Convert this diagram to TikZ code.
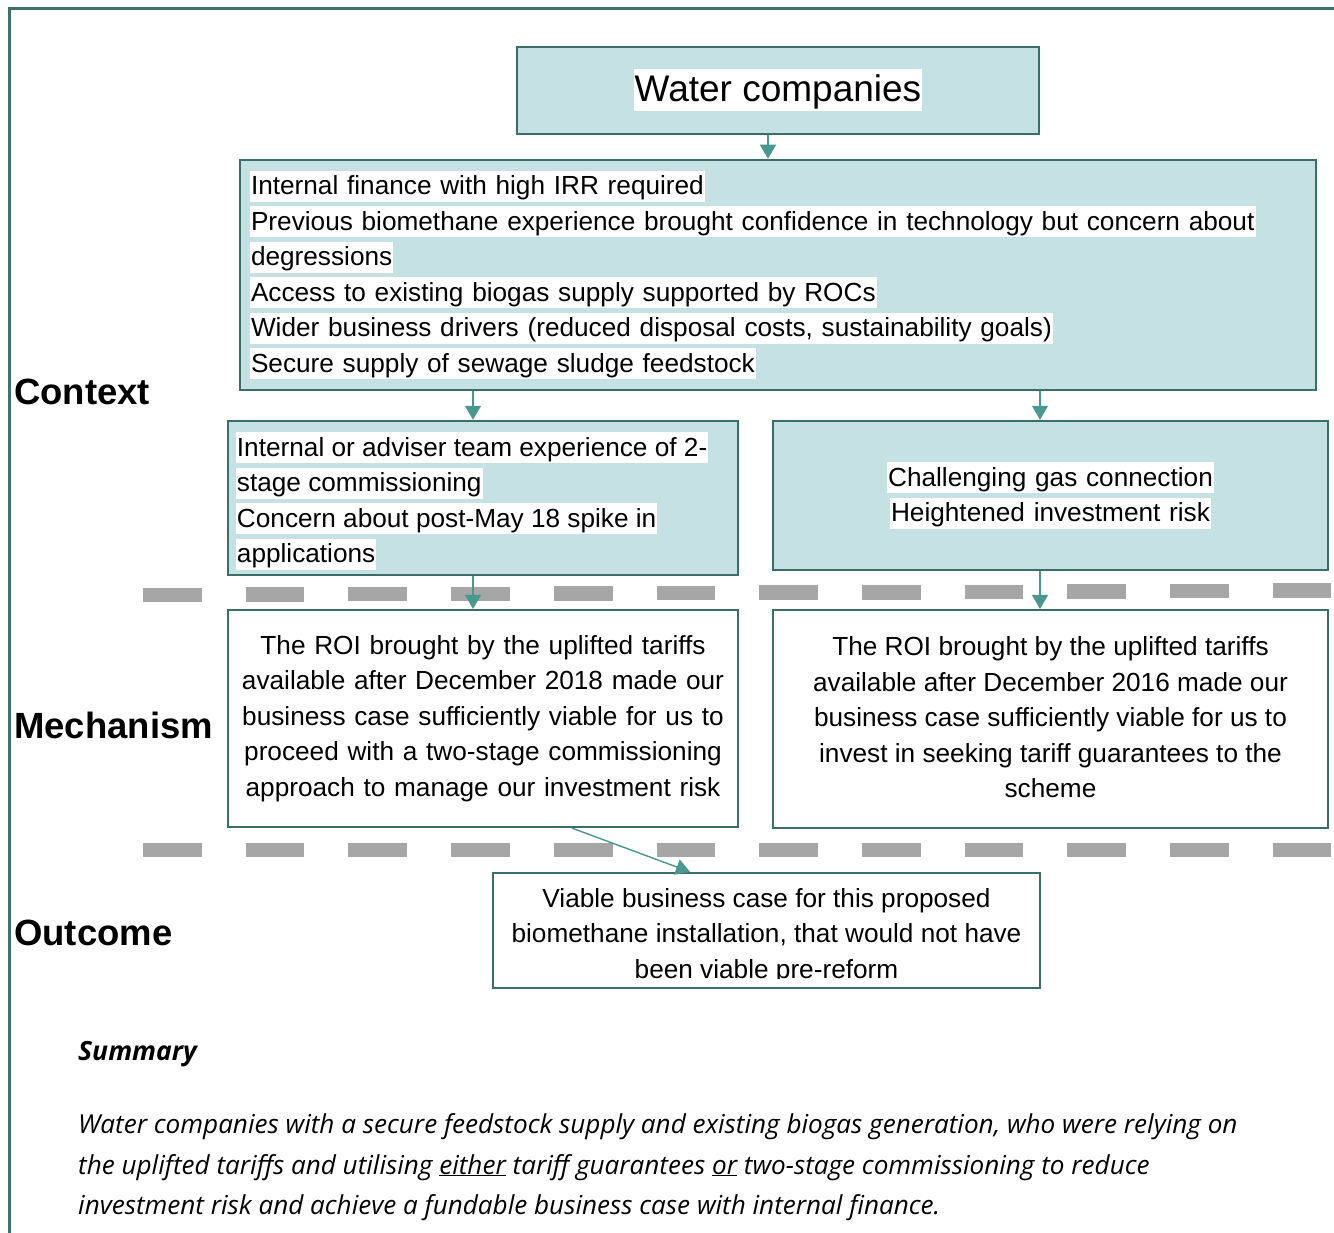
\documentclass[tikz,border=0pt]{standalone}
\usepackage{fontspec}
\setmainfont{Liberation Sans}
\newfontfamily\sumfont{Open Sans}
\usetikzlibrary{arrows.meta}

\definecolor{frameteal}{HTML}{3E7169}
\definecolor{boxfill}{HTML}{C5E1E4}
\definecolor{boxline}{HTML}{3B6E66}
\definecolor{arrowteal}{HTML}{4A978F}
\definecolor{dashgray}{HTML}{A6A6A6}

% white highlight behind one line of text
\newcommand\wbox[1]{{\setlength{\fboxsep}{0pt}\colorbox{white}{\rule[-7pt]{0pt}{31pt}\kern1pt#1\kern1pt}}}

\tikzset{
  ctxbox/.style={draw=boxline, line width=2.5pt, fill=boxfill, inner sep=0pt,
    font=\fontsize{26.2}{35.5}\selectfont},
  boxtext/.style={inner sep=0pt, font=\fontsize{26.2}{35.5}\selectfont},
  mechbox/.style={draw=boxline, line width=2.2pt, fill=white, inner sep=0pt,
    font=\fontsize{26.2}{35.5}\selectfont, align=center},
  flow/.style={draw=arrowteal, line width=1.4pt,
    -{Triangle[width=16pt,length=14pt,fill=arrowteal]}},
  rowlabel/.style={font=\bfseries\fontsize{36.5}{40}\selectfont, anchor=west, inner sep=0pt},
  dashbar/.style={dashgray, line width=14.5pt},
  sumline/.style={font=\sumfont\itshape\fontsize{26.1}{30}\selectfont, anchor=base west, inner sep=0pt},
}

\begin{document}
\begin{tikzpicture}[x=1pt,y=-1pt]
\useasboundingbox (0,0) rectangle (1334,1233);
\fill[white] (0,0) rectangle (1334,1233);

% outer frame
\draw[frameteal, line width=3pt] (9,1240) -- (9,9) -- (1340,9);

% stage separators: a row of short grey bars, the upper row stepping up slightly
\foreach \i in {0,...,11} {
  \draw[dashbar] ({143+102.7*\i},{595-0.39*\i}) -- ++(58.7,0);
  \draw[dashbar] ({143+102.7*\i},850) -- ++(58.7,0);
}

% row labels
\node[rowlabel] (lctxlabel) at (14,392) {Context};
\node[rowlabel] (lmechlabel) at (14,725) {Mechanism};
\node[rowlabel] (loutlabel) at (14,933) {Outcome};

% top box
\node[ctxbox, minimum width=522pt, minimum height=87pt,
  font=\fontsize{37}{40}\selectfont] (wc) at (778,90.5)
  {{\setlength{\fboxsep}{0pt}\colorbox{white}{\rule[-10pt]{0pt}{42pt}\kern1pt Water companies\kern1pt}}};

% context boxes
\node[ctxbox, minimum width=1076pt, minimum height=230pt,
  text width=1056pt, align=left] (ctx) at (778,275) {%
  \wbox{Internal finance with high IRR required}\\
  \wbox{Previous biomethane experience brought confidence in technology but concern about}\\
  \wbox{degressions}\\
  \wbox{Access to existing biogas supply supported by ROCs}\\
  \wbox{Wider business drivers (reduced disposal costs, sustainability goals)}\\
  \wbox{Secure supply of sewage sludge feedstock}};

\node[ctxbox, minimum width=510pt, minimum height=154pt] (lctx) at (483,498) {};
\node[boxtext, align=left, anchor=west] (lctxtext) at ([xshift=9pt,yshift=-3pt]lctx.west) {%
  \wbox{Internal or adviser team experience of 2-}\\
  \wbox{stage commissioning}\\
  \wbox{Concern about post-May 18 spike in}\\
  \wbox{applications}};

\node[ctxbox, minimum width=555pt, minimum height=149pt,
  text width=535pt, align=center] (rctx) at (1050.5,495.5) {%
  \wbox{Challenging gas connection}\\
  \wbox{Heightened investment risk}};

% mechanism boxes
\node[mechbox, minimum width=510pt, minimum height=217pt, text width=500pt] (lmech) at (483,718.5) {%
  The ROI brought by the uplifted tariffs\\
  available after December 2018 made our\\
  business case sufficiently viable for us to\\
  proceed with a two-stage commissioning\\
  approach to manage our investment risk};

\node[mechbox, minimum width=555pt, minimum height=218pt] (rmech) at (1050.5,719) {};
\node[boxtext, align=center] (rmechtext) at (1050.5,717.5) {%
  The ROI brought by the uplifted tariffs\\
  available after December 2016 made our\\
  business case sufficiently viable for us to\\
  invest in seeking tariff guarantees to the\\
  scheme};

% outcome box, its text cut off at the lower edge
\node[mechbox, minimum width=547pt, minimum height=115pt] (out) at (766.5,930.5) {};
\begin{scope}
  \clip ([xshift=2pt,yshift=-2pt]out.north west) rectangle ([xshift=-2pt,yshift=11pt]out.south east);
  \node[boxtext, align=center] (outtext) at (766.5,936) {%
    Viable business case for this proposed\\
    biomethane installation, that would not have\\
    been viable pre-reform};
\end{scope}

% connectors
\coordinate (wa) at ([xshift=-10pt]wc.south);
\draw[flow] (wa) -- (wa |- ctx.north);
\coordinate (la) at ([xshift=-10pt]lctx.north);
\draw[flow] (la |- ctx.south) -- (la);
\coordinate (ra) at ([xshift=-10.5pt]rctx.north);
\draw[flow] (ra |- ctx.south) -- (ra);
\coordinate (lb) at ([xshift=-10pt]lmech.north);
\draw[flow] (lb |- lctx.south) -- (lb);
\coordinate (rb) at ([xshift=-10.5pt]rmech.north);
\draw[flow] (rb |- rctx.south) -- (rb);
\coordinate (da) at ([xshift=89pt]lmech.south);
\coordinate (db) at ([xshift=-76.5pt]out.north);
\draw[flow] (da) -- (db);

% summary
\node[font=\sumfont\bfseries\itshape\fontsize{26.5}{30}\selectfont, anchor=base west, inner sep=0pt]
  (sumhead) at (78,1060) {Summary};
\node[sumline] (sum1) at (78,1133) {Water companies with a secure feedstock supply and existing biogas generation, who were relying on};
\node[sumline] (sum2) at (78,1174) {the uplifted tariffs and utilising \underline{either} tariff guarantees \underline{or} two-stage commissioning to reduce};
\node[sumline] (sum3) at (78,1214) {investment risk and achieve a fundable business case with internal finance.};
\end{tikzpicture}
\end{document}
